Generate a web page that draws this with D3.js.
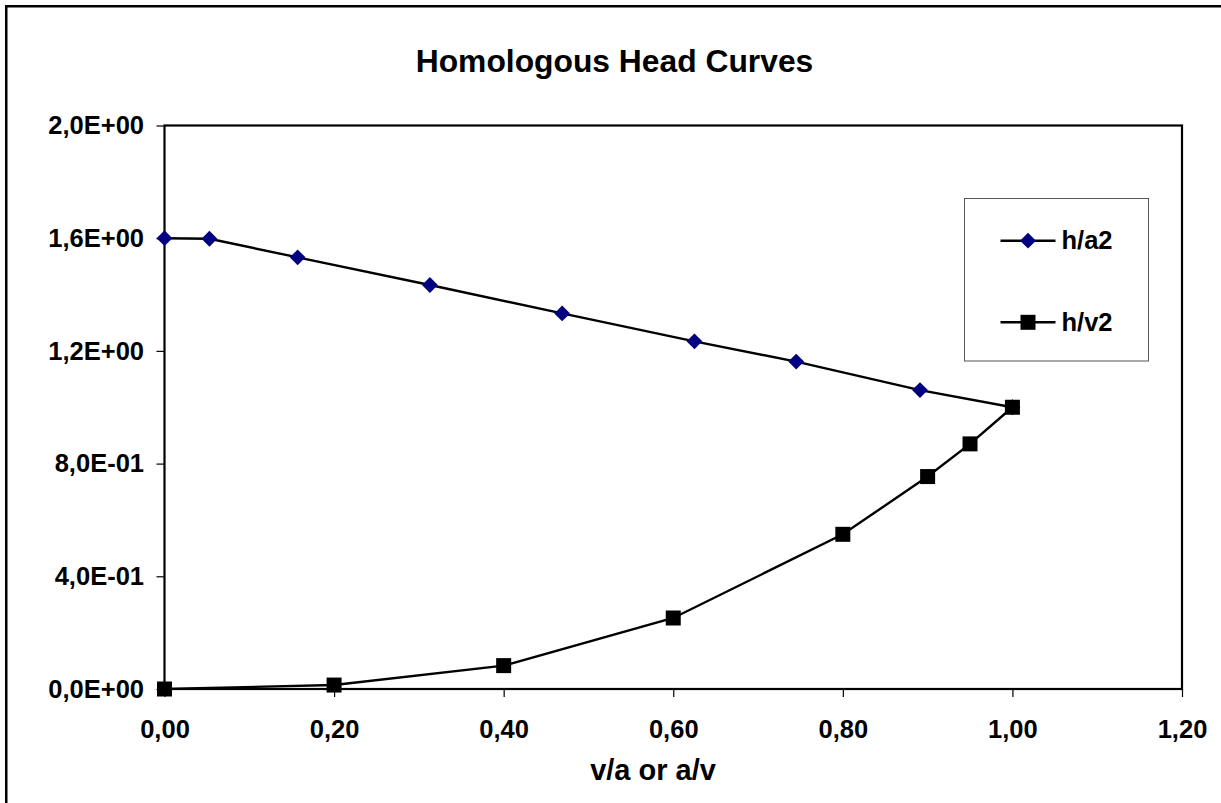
<!DOCTYPE html>
<meta charset="utf-8">
<style>
  body {
    margin: 0;
    background: #fff;
  }

  svg {
    font-family: "Liberation Sans", Arial, sans-serif;
    font-weight: bold;
  }

  .axis path {
    display: none;
  }

  .axis line {
    stroke: #000;
    stroke-width: 1.2;
  }

  .axis text {
    font-size: 25.5px;
    fill: #000;
  }

  .frame {
    fill: none;
    stroke: #000;
    stroke-width: 2.2;
  }

  .series {
    fill: none;
    stroke: #000;
    stroke-width: 2.4;
  }
</style>

<body>
  <script src="https://cdn.jsdelivr.net/npm/d3@7"></script>
  <script>
    // h/a2 series (v/a on x)
    var ha2X = [0, 0.053, 0.157, 0.313, 0.469, 0.625, 0.745, 0.891, 1.0];
    var ha2Y = [1.60, 1.598, 1.532, 1.434, 1.333, 1.234, 1.162, 1.061, 1.0];

    // h/v2 series (a/v on x)
    var hv2X = [0, 0.2, 0.4, 0.6, 0.8, 0.9, 0.95, 1.0];
    var hv2Y = [0, 0.014, 0.083, 0.252, 0.549, 0.754, 0.870, 1.0];

    var seriesNames = ["h/a2", "h/v2"];

    var xTicks = [0, 0.2, 0.4, 0.6, 0.8, 1.0, 1.2];
    var xTickLabels = ["0,00", "0,20", "0,40", "0,60", "0,80", "1,00", "1,20"];
    var yTicks = [0, 0.4, 0.8, 1.2, 1.6, 2.0];
    var yTickLabels = ["0,0E+00", "4,0E-01", "8,0E-01", "1,2E+00", "1,6E+00", "2,0E+00"];

    var width = 1221,
      height = 803;

    // plot area, in page pixels (window.top is reserved, hence the prefix)
    var plotLeft = 164.5, plotRight = 1182, plotTop = 125.5, plotBottom = 689;

    var svg = d3.select("body").append("svg")
      .attr("width", width)
      .attr("height", height);

    // outer chart border, runs off the right and bottom edges
    svg.append("rect")
      .attr("x", 6.25)
      .attr("y", 6.25)
      .attr("width", width + 20)
      .attr("height", height + 20)
      .attr("fill", "#fff")
      .attr("stroke", "#000")
      .attr("stroke-width", 2.5);

    var x = d3.scaleLinear().domain([0, 1.2]).range([plotLeft, plotRight]);
    var y = d3.scaleLinear().domain([0, 2.0]).range([plotBottom, plotTop]);

    svg.append("text")
      .attr("x", 614.5)
      .attr("y", 71.5)
      .attr("text-anchor", "middle")
      .style("font-size", "31.8px")
      .text("Homologous Head Curves");

    var xAxis = d3.axisBottom(x)
      .tickValues(xTicks)
      .tickSize(8)
      .tickPadding(23)
      .tickFormat(function (d, i) { return xTickLabels[i]; });

    var yAxis = d3.axisLeft(y)
      .tickValues(yTicks)
      .tickSize(8)
      .tickPadding(12.5)
      .tickFormat(function (d, i) { return yTickLabels[i]; });

    svg.append("g")
      .attr("class", "x axis")
      .attr("transform", "translate(0," + plotBottom + ")")
      .call(xAxis);

    svg.append("g")
      .attr("class", "y axis")
      .attr("transform", "translate(" + plotLeft + ",0)")
      .call(yAxis);

    svg.append("rect")
      .attr("class", "frame")
      .attr("x", plotLeft)
      .attr("y", plotTop)
      .attr("width", plotRight - plotLeft)
      .attr("height", plotBottom - plotTop);

    svg.append("text")
      .attr("x", 653)
      .attr("y", 779.5)
      .attr("text-anchor", "middle")
      .style("font-size", "29px")
      .text("v/a or a/v");

    var ha2 = ha2X.map(function (v, i) { return [v, ha2Y[i]]; });
    var hv2 = hv2X.map(function (v, i) { return [v, hv2Y[i]]; });

    var line = d3.line()
      .x(function (d) { return x(d[0]); })
      .y(function (d) { return y(d[1]); });

    svg.append("path").attr("class", "series").attr("d", line(ha2));
    svg.append("path").attr("class", "series").attr("d", line(hv2));

    var diamond = d3.symbol().type(d3.symbolSquare).size(125);
    var square = d3.symbol().type(d3.symbolSquare).size(225);

    svg.selectAll(".diamond")
      .data(ha2)
      .enter().append("path")
      .attr("class", "diamond")
      .attr("d", diamond)
      .attr("fill", "#000080")
      .attr("transform", function (d) { return "translate(" + x(d[0]) + "," + y(d[1]) + ") rotate(45)"; });

    svg.selectAll(".square")
      .data(hv2)
      .enter().append("path")
      .attr("class", "square")
      .attr("d", square)
      .attr("fill", "#000")
      .attr("transform", function (d) { return "translate(" + x(d[0]) + "," + y(d[1]) + ")"; });

    // legend
    var legend = svg.append("g");
    legend.append("rect")
      .attr("x", 964.5)
      .attr("y", 198.5)
      .attr("width", 184)
      .attr("height", 162.5)
      .attr("fill", "#fff")
      .attr("stroke", "#555")
      .attr("stroke-width", 1);

    var legendY = [240.7, 322.3];
    seriesNames.forEach(function (name, i) {
      var g = legend.append("g").attr("transform", "translate(0," + legendY[i] + ")");
      g.append("line")
        .attr("x1", 1000.5).attr("x2", 1055.5)
        .attr("stroke", "#000").attr("stroke-width", 2.4);
      g.append("path")
        .attr("d", i === 0 ? diamond : square)
        .attr("fill", i === 0 ? "#000080" : "#000")
        .attr("transform", "translate(1028,0)" + (i === 0 ? " rotate(45)" : ""));
      g.append("text")
        .attr("x", 1061.5)
        .attr("y", 8.5)
        .style("font-size", "25.5px")
        .text(name);
    });
  </script>
</body>

</html>
